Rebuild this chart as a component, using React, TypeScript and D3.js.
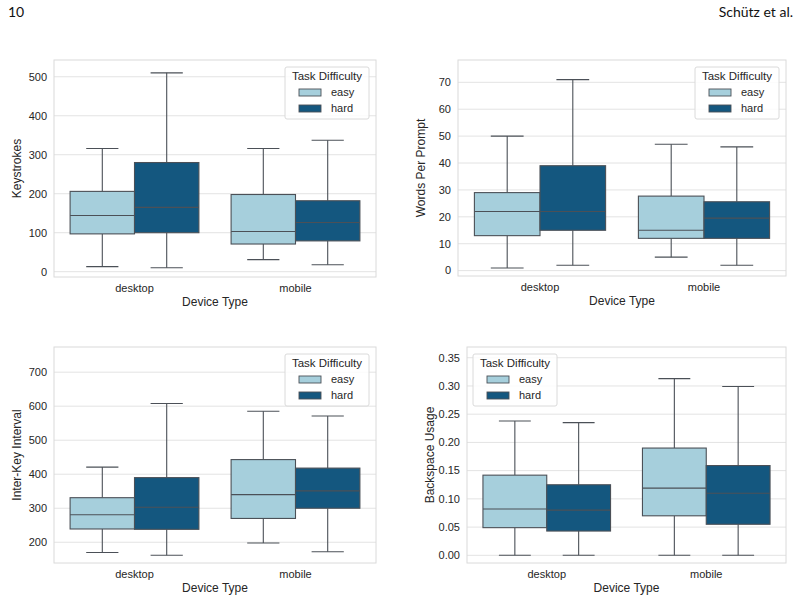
import React, { useEffect, useRef } from 'react';
import * as d3 from 'd3';

// box stats: [lower whisker, q1, median, q3, upper whisker]
const devices = ['desktop', 'mobile'];
const difficulties = ['easy', 'hard'];
const colors = ['#a6cfdc', '#14577f'];

const keystrokes = [
  [[13, 97, 144, 206, 316], [10, 100, 165, 280, 510]],
  [[31, 71, 103, 198, 316], [18, 79, 126, 182, 337]],
];
const wordsPerPrompt = [
  [[1, 13, 22, 29, 50], [2, 15, 22, 39, 71]],
  [[5, 12, 15, 27.7, 47], [2, 12, 19.5, 25.6, 46]],
];
const interKey = [
  [[170, 239, 281, 331, 421], [162, 238, 303, 390, 608]],
  [[198, 270, 340, 443, 585], [172, 300, 351, 418, 571]],
];
const backspace = [
  [[0, 0.049, 0.082, 0.142, 0.238], [0, 0.043, 0.08, 0.125, 0.235]],
  [[0, 0.07, 0.119, 0.19, 0.313], [0, 0.055, 0.11, 0.159, 0.299]],
];

const keystrokeTicks = [0, 100, 200, 300, 400, 500];
const wordTicks = [0, 10, 20, 30, 40, 50, 60, 70];
const ikiTicks = [200, 300, 400, 500, 600, 700];
const backspaceTicks = [0, 0.05, 0.1, 0.15, 0.2, 0.25, 0.3, 0.35];

const panels = [
  { label: 'Keystrokes', data: keystrokes, ticks: keystrokeTicks, domain: [-13.6, 543], fmt: d3.format('d'), box: [54, 60, 376, 277], legend: 'right' },
  { label: 'Words Per Prompt', data: wordsPerPrompt, ticks: wordTicks, domain: [-2, 78.3], fmt: d3.format('d'), box: [458, 60, 786, 276], legend: 'right' },
  { label: 'Inter-Key Interval', data: interKey, ticks: ikiTicks, domain: [139, 774], fmt: d3.format('d'), box: [54, 347, 376, 563], legend: 'right' },
  { label: 'Backspace Usage', data: backspace, ticks: backspaceTicks, domain: [-0.0136, 0.369], fmt: d3.format('.2f'), box: [467, 347, 786, 563], legend: 'left' },
];

const FONT = '"Liberation Sans", Arial, sans-serif';
const TEXT = '#262626';
const EDGE = '#4b5057';

const App = () => {
  const ref = useRef<SVGSVGElement>(null);

  useEffect(() => {
    if (!ref.current) return;
    const svg = d3.select(ref.current);
    svg.selectAll('*').remove();

    svg.append('rect').attr('width', 800).attr('height', 601).attr('fill', '#fff');

    // page header
    svg.append('text').attr('x', 8).attr('y', 17).attr('font-family', 'Lato, sans-serif')
      .attr('font-size', 14).attr('fill', '#111').text('10');
    svg.append('text').attr('x', 793).attr('y', 17).attr('text-anchor', 'end').attr('font-family', 'Lato, sans-serif')
      .attr('font-size', 14).attr('fill', '#111').text('Schütz et al.');

    panels.forEach((p) => {
      const [x0, y0, x1, y1] = p.box;
      const g = svg.append('g');
      const x = d3.scaleBand().domain(devices).range([x0, x1]);
      const y = d3.scaleLinear().domain(p.domain).range([y1, y0]);
      const hue = d3.scaleBand().domain(difficulties).range([0, x.bandwidth() * 0.8]);

      // grid
      g.selectAll('line.grid').data(p.ticks).join('line')
        .attr('x1', x0).attr('x2', x1)
        .attr('y1', (d) => y(d)).attr('y2', (d) => y(d))
        .attr('stroke', '#e3e3e3').attr('stroke-width', 1);

      // frame
      g.append('rect').attr('x', x0).attr('y', y0).attr('width', x1 - x0).attr('height', y1 - y0)
        .attr('fill', 'none').attr('stroke', '#dadada').attr('stroke-width', 1);

      // y ticks
      g.selectAll('text.yt').data(p.ticks).join('text')
        .attr('x', x0 - 7).attr('y', (d) => y(d)).attr('dy', '0.35em')
        .attr('text-anchor', 'end').attr('font-family', FONT).attr('font-size', 11).attr('fill', TEXT)
        .text((d) => p.fmt(d));

      // x ticks
      g.selectAll('text.xt').data(devices).join('text')
        .attr('x', (d) => x(d)! + x.bandwidth() / 2).attr('y', y1 + 15)
        .attr('text-anchor', 'middle').attr('font-family', FONT).attr('font-size', 11).attr('fill', TEXT)
        .text((d) => d);

      g.append('text').attr('x', (x0 + x1) / 2).attr('y', y1 + 29)
        .attr('text-anchor', 'middle').attr('font-family', FONT).attr('font-size', 12).attr('fill', TEXT)
        .text('Device Type');

      g.append('text')
        .attr('transform', `translate(${x0 - 33},${(y0 + y1) / 2}) rotate(-90)`)
        .attr('text-anchor', 'middle').attr('font-family', FONT).attr('font-size', 12).attr('fill', TEXT)
        .text(p.label);

      // boxes
      devices.forEach((dev, i) => {
        difficulties.forEach((diff, j) => {
          const [lo, q1, med, q3, hi] = p.data[i][j];
          const bx = x(dev)! + x.bandwidth() * 0.1 + hue(diff)!;
          const bw = hue.bandwidth();
          const cx = bx + bw / 2;
          const cap = bw / 4;
          const bg = g.append('g').attr('stroke', EDGE).attr('stroke-width', 1.1);
          bg.append('line').attr('x1', cx).attr('x2', cx).attr('y1', y(hi)).attr('y2', y(q3));
          bg.append('line').attr('x1', cx).attr('x2', cx).attr('y1', y(q1)).attr('y2', y(lo));
          bg.append('line').attr('x1', cx - cap).attr('x2', cx + cap).attr('y1', y(hi)).attr('y2', y(hi));
          bg.append('line').attr('x1', cx - cap).attr('x2', cx + cap).attr('y1', y(lo)).attr('y2', y(lo));
          bg.append('rect').attr('x', bx).attr('y', y(q3)).attr('width', bw).attr('height', y(q1) - y(q3))
            .attr('fill', colors[j]);
          bg.append('line').attr('x1', bx).attr('x2', bx + bw).attr('y1', y(med)).attr('y2', y(med));
        });
      });

      // legend
      const lw = 84;
      const lh = 52;
      const lx = p.legend === 'right' ? x1 - 7 - lw : x0 + 6;
      const ly = y0 + 7;
      const lg = g.append('g');
      lg.append('rect').attr('x', lx).attr('y', ly).attr('width', lw).attr('height', lh).attr('rx', 2)
        .attr('fill', 'rgba(255,255,255,0.85)').attr('stroke', '#dadada');
      lg.append('text').attr('x', lx + lw / 2).attr('y', ly + 13).attr('text-anchor', 'middle')
        .attr('font-family', FONT).attr('font-size', 11.5).attr('fill', TEXT).text('Task Difficulty');
      difficulties.forEach((diff, j) => {
        const ry = ly + 22 + j * 16;
        lg.append('rect').attr('x', lx + 14).attr('y', ry).attr('width', 22).attr('height', 7)
          .attr('fill', colors[j]).attr('stroke', EDGE).attr('stroke-width', 0.9);
        lg.append('text').attr('x', lx + 46).attr('y', ry + 3.5).attr('dy', '0.35em')
          .attr('font-family', FONT).attr('font-size', 11).attr('fill', TEXT).text(diff);
      });
    });
  }, []);

  return (
    <div style={{ position: 'absolute', left: 0, top: 0 }}>
      <svg ref={ref} width={800} height={601} />
    </div>
  );
};

export default App;
